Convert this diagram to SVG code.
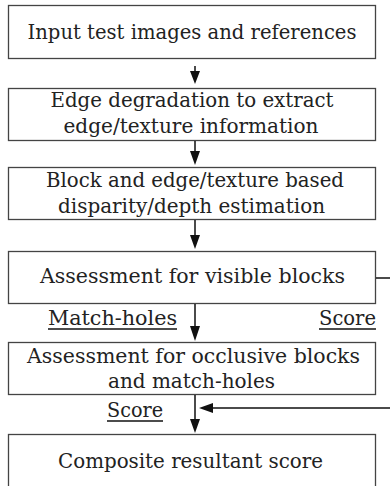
<svg xmlns="http://www.w3.org/2000/svg" width="390" height="486" viewBox="0 0 390 486">
<style>
.box{fill:#fff;stroke:#444;stroke-width:1.3}
text{font-family:"DejaVu Serif Condensed","DejaVu Serif","Liberation Serif",serif;font-size:21px;fill:#222}
.t{text-anchor:middle}
.c{fill:none;stroke:#111;stroke-width:1.5}
.h{fill:#111}
.u{stroke:#111;stroke-width:1.4}
</style>
<rect width="390" height="486" fill="#fff"/>
<g id="n1"><rect class="box" x="8.5" y="5.5" width="367" height="53"/>
<text class="t" x="192" y="39" textLength="329" lengthAdjust="spacingAndGlyphs">Input test images and references</text></g>
<g id="n2"><rect class="box" x="8.5" y="88.5" width="367" height="52"/>
<text class="t" x="192" y="107" textLength="283" lengthAdjust="spacingAndGlyphs">Edge degradation to extract</text>
<text class="t" x="191" y="133" textLength="255" lengthAdjust="spacingAndGlyphs">edge/texture information</text></g>
<g id="n3"><rect class="box" x="8.5" y="167.5" width="367" height="52"/>
<text class="t" x="195" y="187" textLength="298" lengthAdjust="spacingAndGlyphs">Block and edge/texture based</text>
<text class="t" x="191.5" y="213" textLength="267" lengthAdjust="spacingAndGlyphs">disparity/depth estimation</text></g>
<g id="n4"><rect class="box" x="8.5" y="251.5" width="367" height="52"/>
<text class="t" x="192.5" y="283" textLength="305" lengthAdjust="spacingAndGlyphs">Assessment for visible blocks</text></g>
<g id="n5"><rect class="box" x="8.5" y="342.5" width="367" height="52"/>
<text class="t" x="193.5" y="363" textLength="333" lengthAdjust="spacingAndGlyphs">Assessment for occlusive blocks</text>
<text class="t" x="191.5" y="388" textLength="167" lengthAdjust="spacingAndGlyphs">and match-holes</text></g>
<g id="n6"><rect class="box" x="8.5" y="434.5" width="367" height="60"/>
<text class="t" x="190.5" y="468" textLength="265" lengthAdjust="spacingAndGlyphs">Composite resultant score</text></g>
<g id="labels">
<text x="48" y="325" textLength="129" lengthAdjust="spacingAndGlyphs">Match-holes</text>
<line class="u" x1="48" y1="329" x2="177" y2="329"/>
<text x="319" y="325" textLength="57" lengthAdjust="spacingAndGlyphs">Score</text>
<line class="u" x1="319" y1="329" x2="376" y2="329"/>
<text x="107" y="417" textLength="56" lengthAdjust="spacingAndGlyphs">Score</text>
<line class="u" x1="107" y1="421" x2="163" y2="421"/>
</g>
<g id="connectors">
<path class="c" d="M195,66 V72 M195,141 V152 M195,220 V236 M195,304 V327 M195,395 V420 M376,278 H393 V408 H212"/>
<path class="h" d="M190,71 L200,71 L195,84 Z M190,151 L200,151 L195,165 Z M190,235 L200,235 L195,249 Z M190,326 L200,326 L195,341 Z M190,419 L200,419 L195,433 Z M213,403 L213,413 L199,408 Z"/>
</g>
</svg>
